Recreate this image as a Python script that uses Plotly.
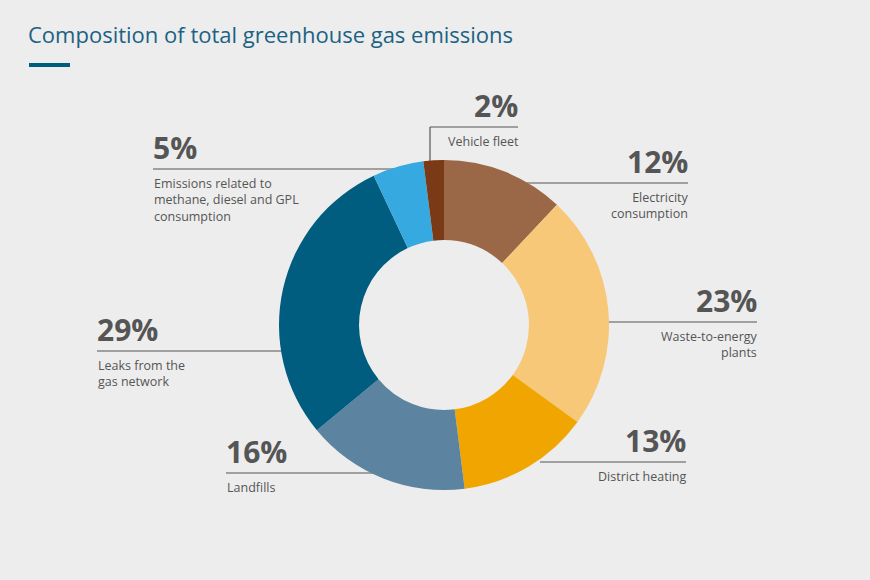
import plotly.graph_objects as go

W, H = 870, 580

categories = ["Electricity consumption", "Waste-to-energy plants", "District heating",
              "Landfills", "Leaks from the gas network",
              "Emissions related to methane, diesel and GPL consumption", "Vehicle fleet"]
values = [12, 23, 13, 16, 29, 5, 2]
colors = ["#9a6846", "#f6c878", "#f0a500", "#5c83a0", "#005d7f", "#36a9e1", "#7a3a16"]
pct_labels = ["12%", "23%", "13%", "16%", "29%", "5%", "2%"]
desc_labels = ["Electricity<br>consumption", "Waste-to-energy<br>plants", "District heating",
               "Landfills", "Leaks from the<br>gas network",
               "Emissions related to<br>methane, diesel and GPL<br>consumption", "Vehicle fleet"]

# label layout (pixel positions): anchor x, line y, line start x (toward pie), align
label_pos = [
    (688, 183, 520, "right"),
    (757, 322, 600, "right"),
    (686, 462, 540, "right"),
    (226, 473, 380, "left"),
    (97, 351, 290, "left"),
    (153, 169, 395, "left"),
    (518, 127, 430, "right"),
]

def px(x):
    return x / W

def py(y):
    return 1 - y / H

cx, cy, r = 444, 325, 165

fig = go.Figure(go.Pie(
    labels=categories, values=values, sort=False, direction="clockwise", rotation=0,
    hole=0.515, marker=dict(colors=colors, line=dict(width=0)),
    textinfo="none", hoverinfo="label+percent",
    domain=dict(x=[px(cx - r), px(cx + r)], y=[py(cy + r), py(cy - r)]),
))

shapes = []
annotations = []
for (ax, ly, lx, align), pct, desc in zip(label_pos, pct_labels, desc_labels):
    shapes.append(dict(type="line", xref="paper", yref="paper",
                       x0=px(min(ax, lx)), x1=px(max(ax, lx)), y0=py(ly), y1=py(ly),
                       line=dict(color="#555555", width=1.2), layer="below"))
    xanchor = "right" if align == "right" else "left"
    annotations.append(dict(x=px(ax + (2 if align == "right" else -2)), y=py(ly + 1),
                            xref="paper", yref="paper",
                            text="<b>" + pct + "</b>", showarrow=False,
                            xanchor=xanchor, yanchor="bottom", align=align,
                            font=dict(family="Open Sans", size=30, color="#555555")))
    annotations.append(dict(x=px(ax + (3 if align == "right" else -1)), y=py(ly + 4),
                            xref="paper", yref="paper",
                            text=desc, showarrow=False,
                            xanchor=xanchor, yanchor="top", align=align,
                            font=dict(family="Open Sans", size=12.5, color="#555555")))

# vertical leader for the small slice
shapes.append(dict(type="line", xref="paper", yref="paper",
                   x0=px(430), x1=px(430), y0=py(127), y1=py(162),
                   line=dict(color="#555555", width=1.2), layer="below"))
# title underline bar
shapes.append(dict(type="rect", xref="paper", yref="paper",
                   x0=px(29), x1=px(70), y0=py(67), y1=py(63),
                   fillcolor="#005d7f", line=dict(width=0)))

annotations.append(dict(x=px(26), y=py(34), xref="paper", yref="paper",
                        text="Composition of total greenhouse gas emissions",
                        showarrow=False, xanchor="left", yanchor="middle",
                        font=dict(family="Open Sans", size=22, color="#1b6283")))

fig.update_layout(
    width=W, height=H, margin=dict(l=0, r=0, t=0, b=0),
    paper_bgcolor="#ededed", plot_bgcolor="#ededed",
    showlegend=False, shapes=shapes, annotations=annotations,
)

fig.write_html("out.html", config={"displayModeBar": False},
               post_script="document.body.style.margin='0';document.body.style.background='#ededed';document.body.style.overflow='hidden';")
